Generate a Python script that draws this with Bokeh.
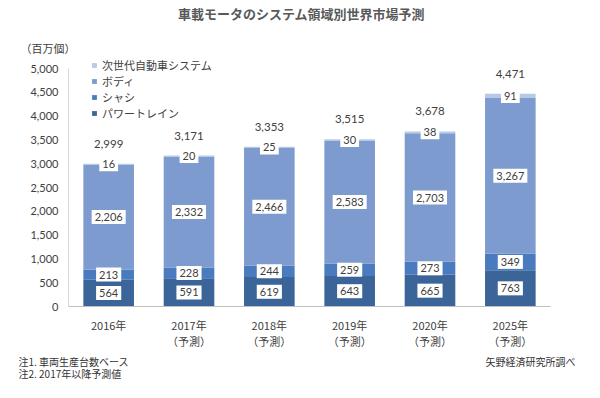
from bokeh.plotting import figure
from bokeh.models import (Range1d, FixedTicker, NumeralTickFormatter, Label,
                          Legend, LegendItem, ColumnDataSource)
from bokeh.embed import file_html
from bokeh.resources import INLINE

# ---- data ----
years = ["2016年", "2017年", "2018年", "2019年", "2020年", "2025年"]
year_notes = ["", "（予測）", "（予測）", "（予測）", "（予測）", "（予測）"]
series_names = ["パワートレイン", "シャシ", "ボディ", "次世代自動車システム"]
powertrain = [564, 591, 619, 643, 665, 763]
chassis = [213, 228, 244, 259, 273, 349]
body = [2206, 2332, 2466, 2583, 2703, 3267]
nextgen = [16, 20, 25, 30, 38, 91]
totals = [2999, 3171, 3353, 3515, 3678, 4471]
y_ticks = [0, 500, 1000, 1500, 2000, 2500, 3000, 3500, 4000, 4500, 5000]
y_max = 5000

title_text = "車載モータのシステム領域別世界市場予測"
unit_text = "（百万個）"
note1 = "注1. 車両生産台数ベース"
note2 = "注2. 2017年以降予測値"
source_text = "矢野経済研究所調べ"

colors = ["#3B6498", "#4A7BBE", "#7D9BCE", "#B8C9E6"]

JP = "Noto Sans CJK JP"
NUM = "Lato"
TXT = "#404040"

# ---- layout (pixels) ----
W, H = 584, 382
AX_L, AX_R, AX_T, AX_B = 68, 550, 68, 306   # where the axes sit on the canvas

n = len(years)
ux = n / (AX_R - AX_L)           # x data units per pixel
uy = y_max / (AX_B - AX_T)       # y data units per pixel
x0 = -0.5
x_range = Range1d(x0 - AX_L * ux, x0 + n + (W - AX_R) * ux)
y_range = Range1d(-(H - AX_B) * uy, y_max + AX_T * uy)

xs = list(range(n))
src = ColumnDataSource(dict(x=xs, powertrain=powertrain, chassis=chassis,
                            body=body, nextgen=nextgen))

p = figure(width=W, height=H, output_backend="svg", toolbar_location=None,
           x_range=x_range, y_range=y_range, min_border=0)
p.outline_line_color = None
p.grid.visible = False

keys = ["powertrain", "chassis", "body", "nextgen"]
rs = p.vbar_stack(keys, x="x", width=0.63, source=src, color=colors,
                  line_color=None)

# axes (fixed inside the frame)
p.yaxis.fixed_location = x0
p.yaxis.bounds = (0, y_max)
p.yaxis.ticker = FixedTicker(ticks=y_ticks)
p.yaxis.formatter = NumeralTickFormatter(format="0,0")
p.yaxis.major_label_text_font = NUM
p.yaxis.major_label_text_font_size = "11px"
p.yaxis.major_label_text_color = TXT
p.yaxis.major_tick_line_color = None
p.yaxis.minor_tick_line_color = None
p.yaxis.axis_line_color = "#D9D9D9"
p.yaxis.major_label_standoff = 4

p.xaxis.fixed_location = 0
p.xaxis.bounds = (x0, x0 + n)
p.xaxis.ticker = FixedTicker(ticks=xs)
p.xaxis.major_label_overrides = {
    i: (yr + "\n" + nt if nt else yr) for i, (yr, nt) in enumerate(zip(years, year_notes))
}
p.xaxis.major_label_text_font = JP
p.xaxis.major_label_text_font_size = "11px"
p.xaxis.major_label_text_color = TXT
p.xaxis.major_label_text_line_height = 1.05
p.xaxis.major_label_standoff = 4
p.xaxis.major_tick_line_color = None
p.xaxis.minor_tick_line_color = None
p.xaxis.axis_line_color = "#BFBFBF"

# segment labels
series = [powertrain, chassis, body, nextgen]
for i, x in enumerate(xs):
    base = 0
    for s in series:
        v = s[i]
        p.add_layout(Label(x=x, y=base + v / 2, text=f"{v:,}",
                           text_align="center", text_baseline="middle",
                           text_font=NUM, text_font_size="11px", text_color=TXT,
                           background_fill_color="white", padding=3))
        base += v
    p.add_layout(Label(x=x, y=base, y_offset=20, text=f"{totals[i]:,}",
                       text_align="center", text_baseline="middle",
                       text_font=NUM, text_font_size="11.5px", text_color=TXT))

# legend (location = bottom-left corner in screen units)
items = [LegendItem(label=series_names[k], renderers=[rs[k]]) for k in [3, 2, 1, 0]]
leg = Legend(items=items, location=(91, H - 121), padding=0, margin=0, spacing=0,
             glyph_width=6, glyph_height=6, label_height=14, label_standoff=5,
             label_text_font=JP, label_text_font_size="11px",
             label_text_color=TXT, border_line_color=None,
             background_fill_alpha=0)
p.add_layout(leg)


def screen_label(px, py, text, align="left", size="11px", color=TXT, style="normal"):
    p.add_layout(Label(x=px, y=H - py, x_units="screen", y_units="screen", text=text,
                       text_align=align, text_baseline="middle", text_font=JP,
                       text_font_size=size, text_font_style=style, text_color=color))


screen_label(301, 13, title_text, align="center", size="13px", color="#595959", style="bold")
screen_label(20, 47, unit_text)
screen_label(18, 361, note1, size="10px", color="#333333")
screen_label(18, 373, note2, size="10px", color="#333333")
screen_label(575, 361, source_text, align="right", size="10px", color="#333333")

open("out.html", "w").write(file_html(p, INLINE))
